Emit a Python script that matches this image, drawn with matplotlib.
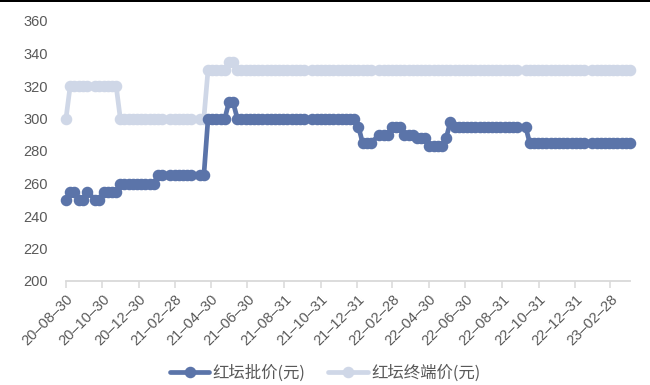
import matplotlib
matplotlib.use("Agg")
import matplotlib.pyplot as plt
import matplotlib.dates as mdates
from matplotlib.patches import Rectangle
import pandas as pd

# Weekly observation dates; holiday weeks without quotes are skipped
week_start = "2020-08-30"
week_end = "2023-04-02"
skipped_weeks = ["2020-10-11", "2021-02-14", "2021-04-04", "2021-10-10",
                 "2022-01-30", "2022-10-02", "2023-01-22"]

# 红坛批价 (wholesale price, yuan)
wholesale = [
    250, 255, 255, 250, 250, 255, 250, 250,
    255, 255, 255, 255,
    260, 260, 260, 260, 260, 260, 260, 260, 260,
    265, 265, 265, 265, 265, 265, 265, 265, 265, 265,
    300, 300, 300, 300, 300, 310, 310,
    300, 300, 300, 300, 300, 300, 300, 300, 300, 300, 300, 300, 300, 300,
    300, 300, 300, 300, 300, 300, 300, 300, 300, 300, 300, 300, 300, 300,
    295, 285, 285, 285,
    290, 290, 290, 295, 295, 295, 290, 290, 290,
    288, 288, 288, 283, 283, 283, 283, 288, 298,
    295, 295, 295, 295, 295, 295, 295, 295, 295, 295, 295, 295, 295, 295,
    295, 295, 295,
    285, 285, 285, 285, 285, 285, 285, 285, 285, 285, 285, 285,
    285, 285, 285, 285, 285, 285, 285, 285, 285, 285, 285, 285,
]

# 红坛终端价 (retail price, yuan)
retail = [
    300,
    320, 320, 320, 320, 320, 320, 320, 320, 320, 320, 320,
    300, 300, 300, 300, 300, 300, 300, 300, 300, 300,
    300, 300, 300, 300, 300, 300, 300, 300, 300,
    330, 330, 330, 330, 330, 335, 335,
] + [330] * 91

x_ticks = ["2020-08-30", "2020-10-30", "2020-12-30", "2021-02-28",
           "2021-04-30", "2021-06-30", "2021-08-31", "2021-10-31",
           "2021-12-31", "2022-02-28", "2022-04-30", "2022-06-30",
           "2022-08-31", "2022-10-31", "2022-12-31", "2023-02-28"]

y_ticks = [200, 220, 240, 260, 280, 300, 320, 340, 360]

series_names = ["红坛批价(元)", "红坛终端价(元)"]

dates = pd.date_range(week_start, week_end, freq="7D")
dates = dates[~dates.isin(pd.to_datetime(skipped_weeks))]

dark = "#5b74a9"
light = "#cfd7e7"
grey_text = "#595959"

fig = plt.figure(figsize=(6.5, 3.85), dpi=100)
ax = fig.add_axes([66 / 650, 1 - 281 / 385, 564 / 650, 260 / 385])

style = dict(lw=3.4, marker="o", ms=7.3, solid_joinstyle="round",
             solid_capstyle="round", clip_on=False)
ax.plot(dates, retail, color=light, mec=light, mfc=light,
        label=series_names[1], zorder=2, **style)
ax.plot(dates, wholesale, color=dark, mec=dark, mfc=dark,
        label=series_names[0], zorder=3, **style)

ax.set_xlim(dates[0], dates[-1])
ax.set_ylim(200, 360)
ax.set_yticks(y_ticks)
ax.set_xticks(pd.to_datetime(x_ticks))
ax.xaxis.set_major_formatter(mdates.DateFormatter("%y–%m–%d"))

for side in ("left", "right", "top"):
    ax.spines[side].set_visible(False)
ax.spines["bottom"].set_color("#d9d9d9")
ax.spines["bottom"].set_linewidth(1.3)
ax.spines["bottom"].set_zorder(0)

ax.tick_params(axis="y", length=0, pad=13, labelsize=10.5,
               labelcolor=grey_text)
ax.tick_params(axis="x", length=5, width=1.1, color="#d9d9d9", pad=3,
               labelsize=10.5, labelcolor=grey_text)
for lab in ax.get_yticklabels() + ax.get_xticklabels():
    lab.set_family(["Liberation Sans", "DejaVu Sans"])
for lab in ax.get_xticklabels():
    lab.set_rotation(45)
    lab.set_ha("right")
    lab.set_rotation_mode("anchor")

handles, labels = ax.get_legend_handles_labels()
leg = fig.legend(handles[::-1], labels[::-1], loc="center",
                 bbox_to_anchor=(0.5, 1 - 373 / 385), ncol=2, frameon=False,
                 prop={"family": ["Noto Sans CJK SC", "DejaVu Sans"],
                       "size": 11.8},
                 handlelength=2.4, handletextpad=0.2, columnspacing=1.4,
                 labelcolor=grey_text)

# thin dark border along the top edge of the image
fig.add_artist(Rectangle((0, 1 - 2 / 385), 1, 2 / 385,
                         transform=fig.transFigure, color="black", lw=0))

fig.savefig("out.png", dpi=100)
